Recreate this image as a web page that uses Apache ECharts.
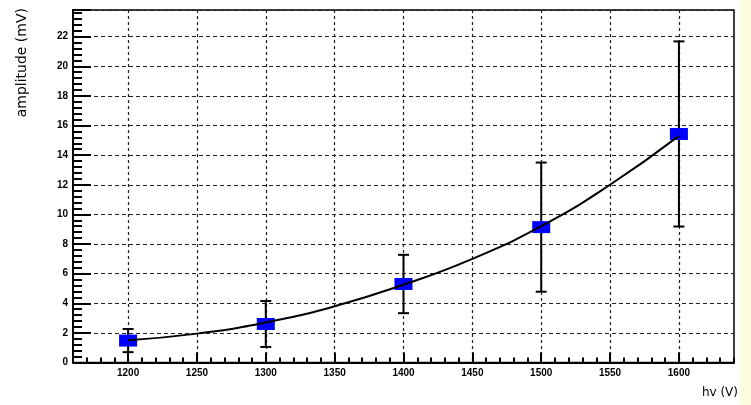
<!DOCTYPE html>
<html><head><meta charset="utf-8">
<script src="https://cdn.jsdelivr.net/npm/echarts@6/dist/echarts.min.js"></script>
<style>html,body{margin:0;padding:0;background:#fff}#c{width:751px;height:405px}</style>
</head><body><div id="c"></div>
<script>
const hv = [1200, 1300, 1400, 1500, 1600];
const amp = [1.48, 2.6, 5.3, 9.14, 15.43];
const ampErr = [0.78, 1.55, 1.97, 4.36, 6.25];
const fitHv = [1200, 1250, 1300, 1350, 1400, 1450, 1500, 1550, 1600];
const fitAmp = [1.5, 1.95, 2.7, 3.8, 5.25, 7.0, 9.2, 12.0, 15.3];
const xTicks = [1200, 1250, 1300, 1350, 1400, 1450, 1500, 1550, 1600];

const chart = echarts.init(document.getElementById('c'), null, {renderer: 'canvas'});
const lblFont = {fontFamily: 'Liberation Sans', fontWeight: 'bold', fontSize: 10, color: '#000'};
chart.setOption({
  animation: false,
  backgroundColor: '#fff',
  grid: {left: 73, right: 17, top: 10, bottom: 42.5, show: true, borderColor: '#000', borderWidth: 1.5, backgroundColor: 'transparent'},
  graphic: [
    {type: 'rect', shape: {x: 740, y: 0, width: 11, height: 405}, style: {fill: '#fcfce0'}, silent: true},
    {type: 'text', right: 13, top: 387, style: {text: 'hv (V)', font: '12px "DejaVu Sans"', fill: '#000'}},
    {type: 'text', left: 15, top: 8, rotation: Math.PI / 2, style: {text: 'amplitude (mV)', font: '14px "DejaVu Sans"', fill: '#000'}}
  ],
  xAxis: [
    {
      type: 'value', min: 1160, max: 1640, position: 'bottom',
      axisLine: {show: true, onZero: false, lineStyle: {color: '#000', width: 2}},
      axisTick: {show: true, inside: true, length: 10, customValues: xTicks, lineStyle: {color: '#000', width: 2}},
      axisLabel: {show: true, customValues: xTicks, margin: 6, formatter: v => String(v), ...lblFont},
      splitLine: {show: true, lineStyle: {color: '#222', width: 1.2, type: [3, 3]}}
    },
    {
      type: 'value', min: 1160, max: 1640, interval: 10, position: 'bottom',
      axisLine: {show: false},
      axisTick: {show: true, inside: true, length: 5, lineStyle: {color: '#000', width: 2}},
      axisLabel: {show: false},
      splitLine: {show: false}
    }
  ],
  yAxis: {
    type: 'value', min: 0, max: 23.8, interval: 2,
    axisLine: {show: true, onZero: false, lineStyle: {color: '#000', width: 2}},
    axisTick: {show: true, inside: true, length: 18, lineStyle: {color: '#000', width: 2}},
    minorTick: {show: true, splitNumber: 5, length: 9, lineStyle: {color: '#000', width: 2}},
    axisLabel: {margin: 5, showMaxLabel: false, ...lblFont},
    splitLine: {show: true, lineStyle: {color: '#222', width: 1.2, type: [4, 3]}}
  },
  series: [
    {
      type: 'custom', xAxisIndex: 0, z: 2,
      data: hv.map((x, i) => [x, amp[i] - ampErr[i], amp[i] + ampErr[i]]),
      renderItem: function (params, api) {
        const lo = api.coord([api.value(0), api.value(1)]);
        const hi = api.coord([api.value(0), api.value(2)]);
        const hw = 5.5;
        const st = {stroke: '#000', lineWidth: 2};
        return {type: 'group', children: [
          {type: 'line', shape: {x1: lo[0], y1: lo[1], x2: hi[0], y2: hi[1]}, style: st},
          {type: 'line', shape: {x1: lo[0] - hw, y1: lo[1], x2: lo[0] + hw, y2: lo[1]}, style: st},
          {type: 'line', shape: {x1: hi[0] - hw, y1: hi[1], x2: hi[0] + hw, y2: hi[1]}, style: st}
        ]};
      }
    },
    {
      type: 'scatter', xAxisIndex: 0, z: 3,
      data: hv.map((x, i) => [x, amp[i]]),
      symbol: 'rect', symbolSize: [18, 12],
      itemStyle: {color: '#0000ff', opacity: 1}
    },
    {
      type: 'line', xAxisIndex: 0, z: 4,
      data: fitHv.map((x, i) => [x, fitAmp[i]]),
      smooth: true, showSymbol: false,
      lineStyle: {color: '#000', width: 2}
    }
  ]
});
</script></body></html>
